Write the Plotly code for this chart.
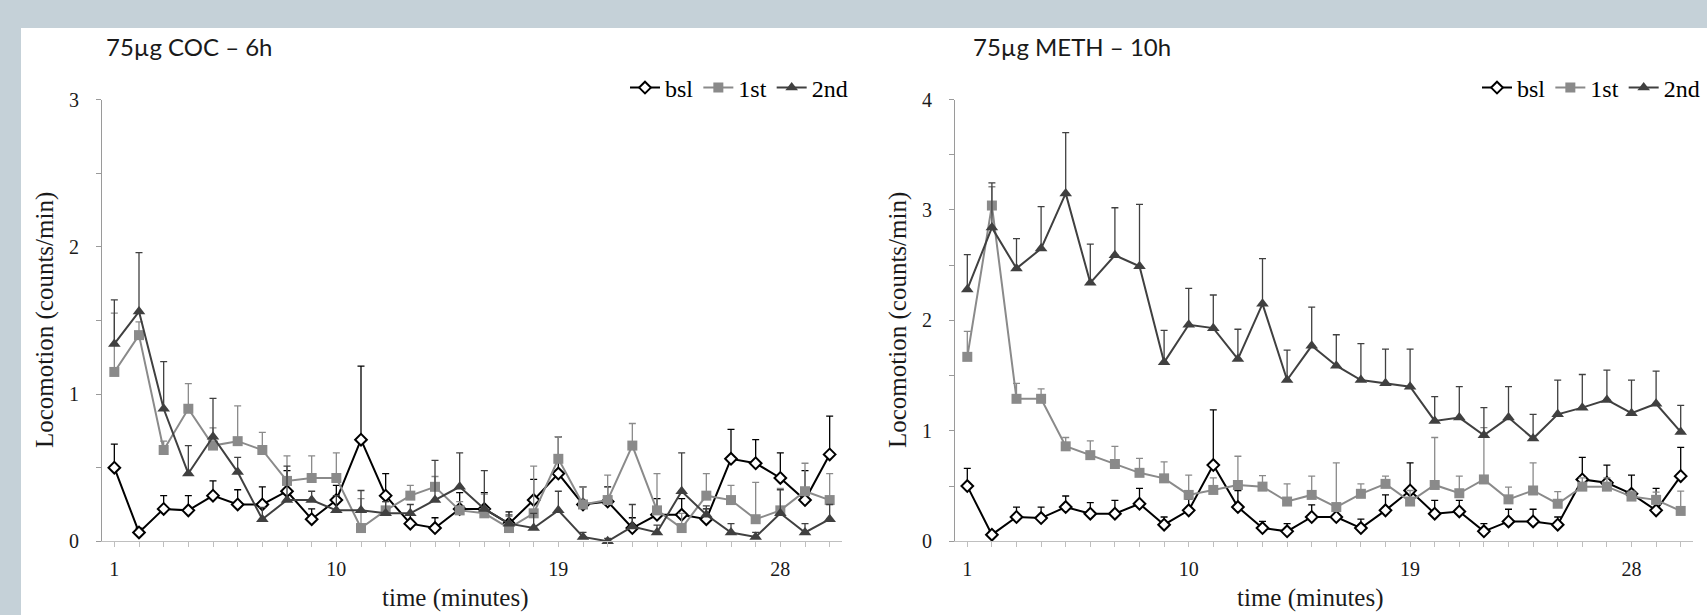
import plotly.graph_objects as go

minutes = list(range(1, 31))
x_tick_labels = {1: "1", 10: "10", 19: "19", 28: "28"}

# baseline (same in both panels)
bsl_mean = [0.50, 0.06, 0.22, 0.21, 0.31, 0.25, 0.25, 0.34, 0.15, 0.28, 0.69, 0.31, 0.12, 0.09, 0.22,
            0.22, 0.12, 0.28, 0.46, 0.25, 0.27, 0.09, 0.18, 0.18, 0.15, 0.56, 0.53, 0.43, 0.28, 0.59]
bsl_sem = [0.16, 0.03, 0.09, 0.10, 0.10, 0.10, 0.12, 0.14, 0.07, 0.10, 0.50, 0.15, 0.06, 0.07, 0.11,
           0.11, 0.08, 0.14, 0.25, 0.12, 0.10, 0.07, 0.11, 0.11, 0.07, 0.20, 0.16, 0.17, 0.20, 0.26]

# 75ug COC - 6h
coc_1st = [1.15, 1.40, 0.62, 0.90, 0.65, 0.68, 0.62, 0.41, 0.43, 0.43, 0.09, 0.21, 0.31, 0.37, 0.21,
           0.19, 0.09, 0.19, 0.56, 0.25, 0.28, 0.65, 0.21, 0.09, 0.31, 0.28, 0.15, 0.21, 0.34, 0.28]
coc_1st_sem = [0.40, 0.09, 0.06, 0.17, 0.12, 0.24, 0.12, 0.17, 0.15, 0.17, 0.20, 0.06, 0.07, 0.07, 0.06,
               0.13, 0.08, 0.32, 0.15, 0.12, 0.17, 0.15, 0.25, 0.10, 0.15, 0.10, 0.25, 0.15, 0.19, 0.18]
coc_2nd = [1.34, 1.56, 0.90, 0.46, 0.71, 0.47, 0.15, 0.28, 0.28, 0.21, 0.21, 0.19, 0.19, 0.28, 0.37,
           0.22, 0.12, 0.09, 0.21, 0.03, 0.00, 0.10, 0.06, 0.34, 0.18, 0.06, 0.03, 0.19, 0.06, 0.15]
coc_2nd_sem = [0.30, 0.40, 0.32, 0.19, 0.26, 0.10, 0.08, 0.23, 0.06, 0.10, 0.135, 0.08, 0.06, 0.27, 0.23,
               0.26, 0.06, 0.10, 0.13, 0.03, 0.02, 0.15, 0.05, 0.26, 0.06, 0.06, 0.03, 0.16, 0.06, 0.10]

# 75ug METH - 10h
meth_1st = [1.67, 3.04, 1.29, 1.29, 0.86, 0.78, 0.70, 0.62, 0.57, 0.42, 0.465, 0.51, 0.495, 0.36, 0.42,
            0.31, 0.43, 0.52, 0.36, 0.51, 0.435, 0.56, 0.38, 0.46, 0.34, 0.495, 0.495, 0.405, 0.375, 0.275]
meth_1st_sem = [0.23, 0.17, 0.14, 0.09, 0.08, 0.13, 0.16, 0.13, 0.15, 0.18, 0.11, 0.26, 0.10, 0.16, 0.17,
                0.40, 0.09, 0.07, 0.10, 0.43, 0.155, 0.47, 0.11, 0.25, 0.11, 0.08, 0.08, 0.05, 0.07, 0.18]
meth_2nd = [2.28, 2.84, 2.47, 2.65, 3.15, 2.34, 2.59, 2.49, 1.62, 1.96, 1.93, 1.65, 2.15, 1.46, 1.77,
            1.59, 1.46, 1.43, 1.40, 1.09, 1.12, 0.96, 1.12, 0.93, 1.15, 1.21, 1.28, 1.16, 1.245, 0.99]
meth_2nd_sem = [0.315, 0.405, 0.27, 0.38, 0.55, 0.35, 0.43, 0.56, 0.29, 0.33, 0.30, 0.27, 0.41, 0.27, 0.35,
                0.28, 0.33, 0.31, 0.34, 0.22, 0.28, 0.25, 0.28, 0.22, 0.31, 0.30, 0.27, 0.30, 0.295, 0.24]

SERIF = "Liberation Serif"
SANS = "Lato"
BG = "#c5d1d8"
C_BSL = "#000000"
C_1ST = "#8a8a8a"
C_2ND = "#404040"

fig = go.Figure()


def add_series(name, y, err, xa, ya, legend, color, symbol, size, fill, lw=2):
    fig.add_trace(go.Scatter(
        x=minutes, y=y, name=name, mode="lines+markers",
        xaxis=xa, yaxis=ya, legend=legend,
        line=dict(color=color, width=lw),
        marker=dict(symbol=symbol, size=size, color=fill, line=dict(color=color, width=2 if fill == "white" else 0)),
        error_y=dict(type="data", symmetric=False, array=err, arrayminus=[0] * len(err),
                     color=color, thickness=1.3, width=3.5),
        cliponaxis=False,
    ))


add_series("bsl", bsl_mean, bsl_sem, "x", "y", "legend", C_BSL, "diamond", 9, "white")
add_series("1st", coc_1st, coc_1st_sem, "x", "y", "legend", C_1ST, "square", 10, C_1ST)
add_series("2nd", coc_2nd, coc_2nd_sem, "x", "y", "legend", C_2ND, "triangle-up", 11, C_2ND)

add_series("bsl", bsl_mean, bsl_sem, "x2", "y2", "legend2", C_BSL, "diamond", 9, "white")
add_series("1st", meth_1st, meth_1st_sem, "x2", "y2", "legend2", C_1ST, "square", 10, C_1ST)
add_series("2nd", meth_2nd, meth_2nd_sem, "x2", "y2", "legend2", C_2ND, "triangle-up", 11, C_2ND)

W, H = 1707, 615
ydom = [(H - 541.3) / H, (H - 99.5) / H]

xaxis_common = dict(
    range=[0.5, 30.5], tickvals=minutes,
    ticktext=[x_tick_labels.get(m, "") for m in minutes],
    ticks="outside", ticklen=5, tickcolor="#bfbfbf", tickwidth=1,
    showline=True, linecolor="#bfbfbf", linewidth=1,
    showgrid=False, zeroline=False, automargin=False,
    tickfont=dict(family=SERIF, size=20, color="#1a1a1a"),
    ticklabelstandoff=5, fixedrange=True,
)
yaxis_common = dict(
    ticks="outside", ticklen=5, tickcolor="#9a9a9a", tickwidth=1,
    showline=True, linecolor="#9a9a9a", linewidth=1,
    showgrid=False, zeroline=False, automargin=False,
    tickfont=dict(family=SERIF, size=20, color="#1a1a1a"),
    ticklabelstandoff=13, fixedrange=True,
    minor=dict(dtick=0.5, ticks="outside", ticklen=5, tickcolor="#9a9a9a", showgrid=False),
)

fig.update_layout(
    width=W, height=H,
    margin=dict(l=0, r=0, t=0, b=0, pad=0, autoexpand=False),
    paper_bgcolor=BG, plot_bgcolor="white",
    showlegend=True,
    xaxis=dict(domain=[102 / W, 842 / W], anchor="y", **xaxis_common),
    yaxis=dict(domain=ydom, anchor="x", range=[0, 3], tickvals=[0, 1, 2, 3], **yaxis_common),
    xaxis2=dict(domain=[955 / W, 1693 / W], anchor="y2", **xaxis_common),
    yaxis2=dict(domain=ydom, anchor="x2", range=[0, 4], tickvals=[0, 1, 2, 3, 4], **yaxis_common),
    legend=dict(orientation="h", x=853 / W, xanchor="right", y=(H - 88) / H, yanchor="middle",
                font=dict(family=SERIF, size=24, color="#000"), bgcolor="rgba(0,0,0,0)",
                itemwidth=30, tracegroupgap=0),
    legend2=dict(orientation="h", x=1705 / W, xanchor="right", y=(H - 88) / H, yanchor="middle",
                 font=dict(family=SERIF, size=24, color="#000"), bgcolor="rgba(0,0,0,0)",
                 itemwidth=30, tracegroupgap=0),
    shapes=[dict(type="rect", xref="paper", yref="paper", x0=21 / W, x1=1, y0=0, y1=(H - 28) / H,
                 fillcolor="white", line=dict(width=0), layer="below")],
)

annots = [
    dict(text="75µg COC – 6h", x=104 / W, y=(H - 47) / H, xanchor="left", yanchor="middle",
         font=dict(family=SANS, size=24, color="#1a1a1a")),
    dict(text="75µg METH – 10h", x=971 / W, y=(H - 47) / H, xanchor="left", yanchor="middle",
         font=dict(family=SANS, size=24, color="#1a1a1a")),
    dict(text="Locomotion (counts/min)", x=45 / W, y=(H - 320) / H, xanchor="center", yanchor="middle",
         textangle=-90, font=dict(family=SERIF, size=25, color="#1a1a1a")),
    dict(text="Locomotion (counts/min)", x=898 / W, y=(H - 320) / H, xanchor="center", yanchor="middle",
         textangle=-90, font=dict(family=SERIF, size=25, color="#1a1a1a")),
    dict(text="time (minutes)", x=455 / W, y=1 / H, xanchor="center", yanchor="bottom",
         font=dict(family=SERIF, size=25, color="#1a1a1a")),
    dict(text="time (minutes)", x=1310 / W, y=1 / H, xanchor="center", yanchor="bottom",
         font=dict(family=SERIF, size=25, color="#1a1a1a")),
]
for a in annots:
    a.update(xref="paper", yref="paper", showarrow=False)
fig.update_layout(annotations=annots)

fig.write_html("out.html", config={"displayModeBar": False})
